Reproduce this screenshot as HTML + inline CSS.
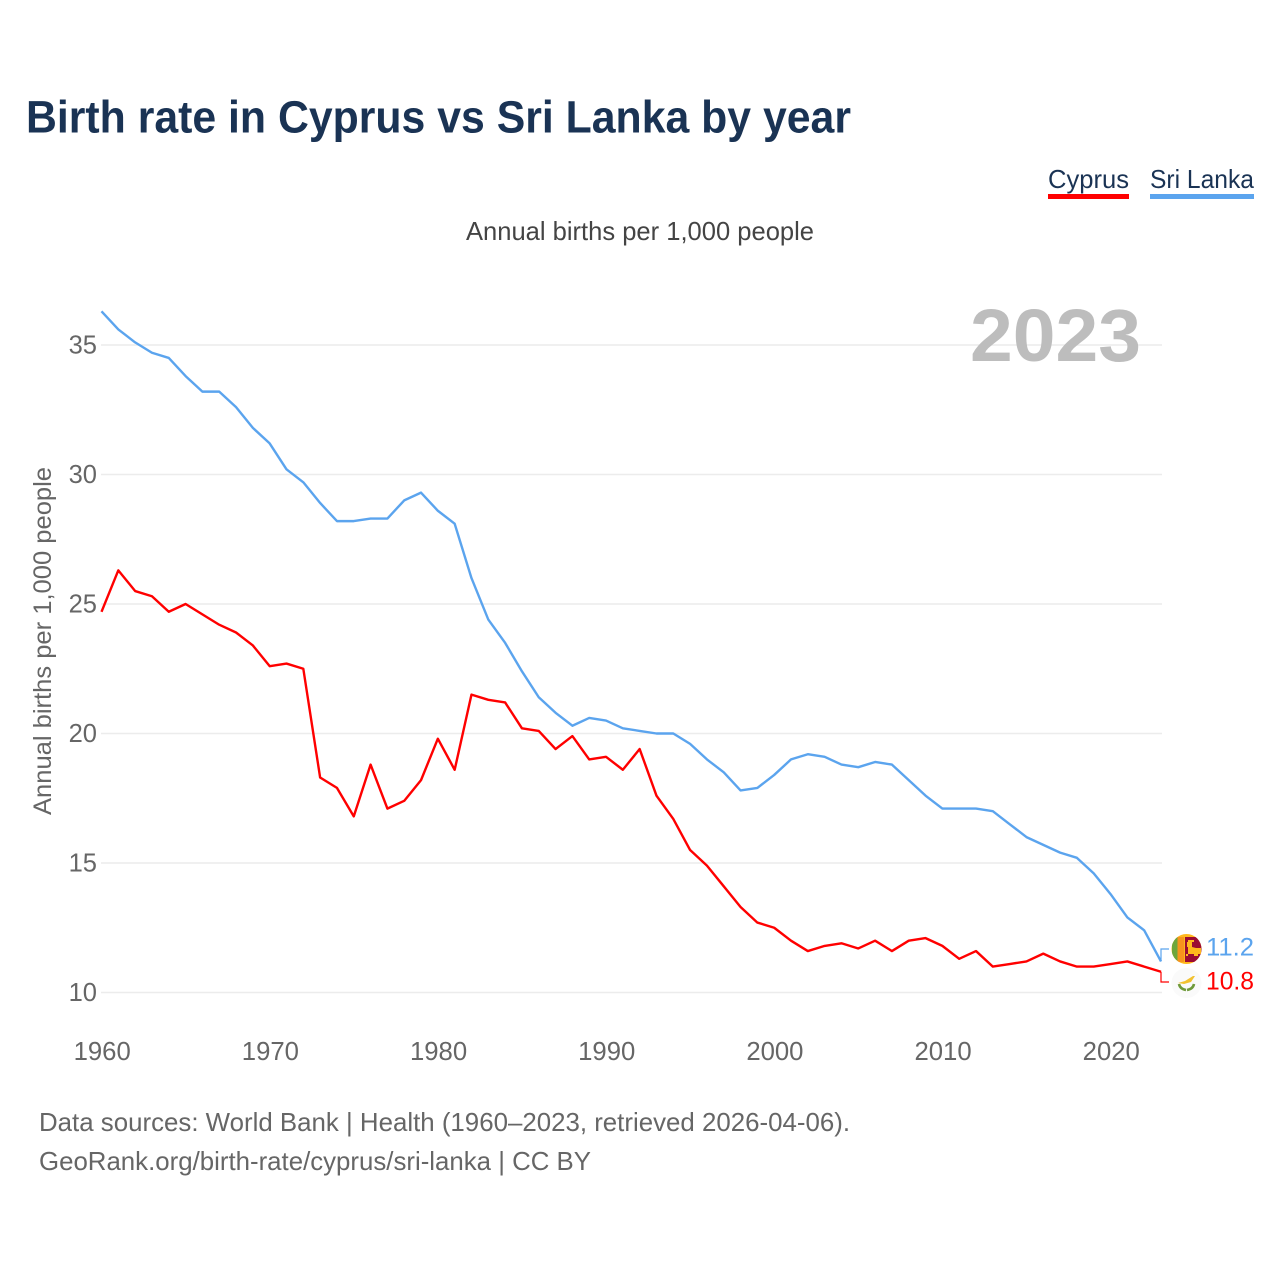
<!DOCTYPE html>
<html lang="en">
<head>
<meta charset="utf-8">
<title>Birth rate in Cyprus vs Sri Lanka by year</title>
<style>
html,body{margin:0;padding:0;background:#fff;}
body{width:1280px;height:1280px;overflow:hidden;}
svg{display:block;font-family:"Liberation Sans",sans-serif;}
</style>
</head>
<body>
<svg id="chart" width="1280" height="1280" viewBox="0 0 1280 1280" xmlns="http://www.w3.org/2000/svg">
  <rect width="1280" height="1280" fill="#ffffff"/>
  <text x="26" y="132.5" font-size="45" font-weight="700" fill="#1a3354" textLength="825" lengthAdjust="spacingAndGlyphs">Birth rate in Cyprus vs Sri Lanka by year</text>

  <g>
    <text x="1048" y="188" font-size="26" fill="#1a3354" textLength="81" lengthAdjust="spacingAndGlyphs">Cyprus</text>
    <rect x="1048" y="194" width="81" height="5" fill="#ff0000"/>
  </g>
  <g>
    <text x="1150" y="188" font-size="26" fill="#1a3354" textLength="104" lengthAdjust="spacingAndGlyphs">Sri Lanka</text>
    <rect x="1150" y="194" width="104" height="5" fill="#5ba4ee"/>
  </g>

  <text x="466" y="240" font-size="26" fill="#444444" textLength="348" lengthAdjust="spacingAndGlyphs">Annual births per 1,000 people</text>

  <text transform="translate(51,815) rotate(-90)" font-size="25" fill="#666666" textLength="348" lengthAdjust="spacingAndGlyphs">Annual births per 1,000 people</text>

  <g id="grid"></g>
  <text x="970" y="361" font-size="74" font-weight="700" fill="#bdbdbd" textLength="171" lengthAdjust="spacingAndGlyphs">2023</text>
  <g id="yTicks"></g>
  <g id="xTicks"></g>
  <g id="series"></g>

  <defs>
    <clipPath id="lkClip"><circle cx="1186.5" cy="949" r="15"/></clipPath>
    <clipPath id="cyClip"><circle cx="1186.5" cy="983" r="15"/></clipPath>
  </defs>

  <g clip-path="url(#lkClip)">
    <rect x="1171" y="934" width="31" height="30" fill="#ffb81c"/>
    <rect x="1172" y="937" width="5.5" height="25" fill="#6ea63c"/>
    <rect x="1177.5" y="937" width="6.5" height="25" fill="#f7941e"/>
    <rect x="1185" y="937" width="17" height="25" fill="#9b0b32"/>
    <path d="M1188 940h6v2h-2v5l4 1h5v6h-3v2h-4v-2h-6v2h-2v-2h2v-7h-1v-5h1z" fill="#ffb81c"/>
  </g>

  <g clip-path="url(#cyClip)">
    <rect x="1171" y="968" width="31" height="30" fill="#fafafa"/>
    <path d="M1178 983l7-2 8-5 2 0-4 6-7 2z" fill="#f2c230"/>
    <path d="M1179 984q1 5 7 6M1194 984q-1 5-7 6" fill="none" stroke="#6f9a3a" stroke-width="2.6"/>
  </g>

  <text x="1206" y="955.5" font-size="25" fill="#5ba4ee" textLength="48" lengthAdjust="spacingAndGlyphs">11.2</text>
  <text x="1206" y="989.5" font-size="25" fill="#ff0000" textLength="48" lengthAdjust="spacingAndGlyphs">10.8</text>

  <text x="39" y="1131" font-size="26" fill="#666666" textLength="811" lengthAdjust="spacingAndGlyphs">Data sources: World Bank | Health (1960–2023, retrieved 2026-04-06).</text>
  <text x="39" y="1170" font-size="26" fill="#666666" textLength="552" lengthAdjust="spacingAndGlyphs">GeoRank.org/birth-rate/cyprus/sri-lanka | CC BY</text>
</svg>

<script>
const years = [1960,1961,1962,1963,1964,1965,1966,1967,1968,1969,1970,1971,1972,1973,1974,1975,1976,1977,1978,1979,1980,1981,1982,1983,1984,1985,1986,1987,1988,1989,1990,1991,1992,1993,1994,1995,1996,1997,1998,1999,2000,2001,2002,2003,2004,2005,2006,2007,2008,2009,2010,2011,2012,2013,2014,2015,2016,2017,2018,2019,2020,2021,2022,2023];
const sriLankaValues = [36.3,35.6,35.1,34.7,34.5,33.8,33.2,33.2,32.6,31.8,31.2,30.2,29.7,28.9,28.2,28.2,28.3,28.3,29.0,29.3,28.6,28.1,26.0,24.4,23.5,22.4,21.4,20.8,20.3,20.6,20.5,20.2,20.1,20.0,20.0,19.6,19.0,18.5,17.8,17.9,18.4,19.0,19.2,19.1,18.8,18.7,18.9,18.8,18.2,17.6,17.1,17.1,17.1,17.0,16.5,16.0,15.7,15.4,15.2,14.6,13.8,12.9,12.4,11.2];
const cyprusValues = [24.7,26.3,25.5,25.3,24.7,25.0,24.6,24.2,23.9,23.4,22.6,22.7,22.5,18.3,17.9,16.8,18.8,17.1,17.4,18.2,19.8,18.6,21.5,21.3,21.2,20.2,20.1,19.4,19.9,19.0,19.1,18.6,19.4,17.6,16.7,15.5,14.9,14.1,13.3,12.7,12.5,12.0,11.6,11.8,11.9,11.7,12.0,11.6,12.0,12.1,11.8,11.3,11.6,11.0,11.1,11.2,11.5,11.2,11.0,11.0,11.1,11.2,11.0,10.8];
const yTickValues = [10,15,20,25,30,35];
const xTickValues = [1960,1970,1980,1990,2000,2010,2020];

const NS = 'http://www.w3.org/2000/svg';
function xScale(year) { return 101.5 + (year - 1960) * (1161 - 101.5) / 63; }
function yScale(value) { return 992.5 - (value - 10) * 25.9; }
function make(tag, parent, attrs) {
  const el = document.createElementNS(NS, tag);
  for (const k in attrs) el.setAttribute(k, attrs[k]);
  parent.appendChild(el);
  return el;
}

const grid = document.getElementById('grid');
const yTicks = document.getElementById('yTicks');
yTickValues.forEach(function (v) {
  const line = make('line', grid, {x1: 101, x2: 1162, y1: yScale(v), y2: yScale(v), stroke: '#ececec', 'stroke-width': 1.5});
  
  
  const label = make('text', yTicks, {x: 97, y: yScale(v) + 8.5, 'text-anchor': 'end', 'font-size': 25.5, fill: '#666666'});
  
  
  label.textContent = v;
});

const xTicks = document.getElementById('xTicks');
xTickValues.forEach(function (v) {
  const label = make('text', xTicks, {x: xScale(v) + 0.7, y: 1060, 'text-anchor': 'middle', 'font-size': 25.7, fill: '#666666'});
  
  
  label.textContent = v;
});

function linePath(values) {
  return values.map(function (v, i) {
    return (i ? 'L' : 'M') + xScale(years[i]).toFixed(2) + ' ' + yScale(v).toFixed(2);
  }).join('');
}

const series = document.getElementById('series');

const cyprusLine = make('path', series, {d: linePath(cyprusValues), fill: 'none', stroke: '#ff0000', 'stroke-width': 2.4, 'stroke-linejoin': 'round'});



const sriLankaLine = make('path', series, {d: linePath(sriLankaValues), fill: 'none', stroke: '#5ba4ee', 'stroke-width': 2.4, 'stroke-linejoin': 'round'});



const lastIndex = years.length - 1;
const endX = xScale(years[lastIndex]);

const cyprusConnector = make('path', series, {d: 'M' + endX + ' ' + yScale(cyprusValues[lastIndex]) + 'V982H1169', fill: 'none', stroke: '#ff0000', 'stroke-width': 1.2});



const sriLankaConnector = make('path', series, {d: 'M' + endX + ' ' + yScale(sriLankaValues[lastIndex]) + 'V949H1169', fill: 'none', stroke: '#5ba4ee', 'stroke-width': 1.2});


</script>
</body>
</html>
